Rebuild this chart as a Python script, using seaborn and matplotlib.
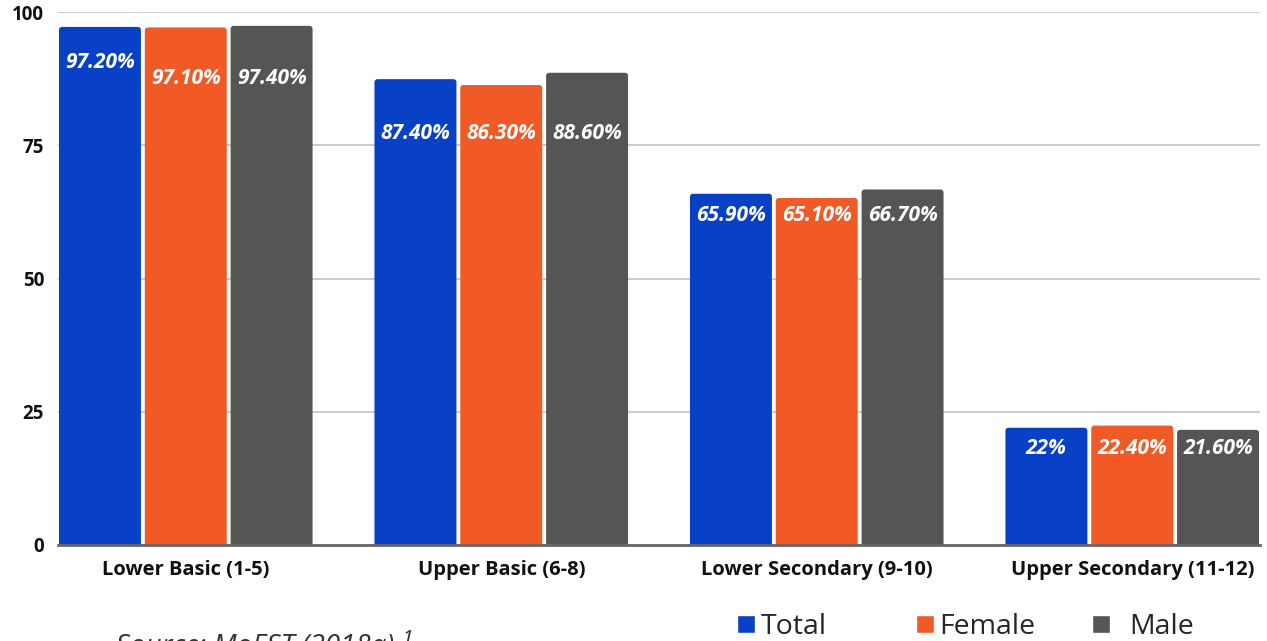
import matplotlib
matplotlib.use("Agg")
import matplotlib.pyplot as plt
from matplotlib.patches import FancyBboxPatch
import pandas as pd
import seaborn as sns

# Completion rates by education level and sex (%)
levels = ["Lower Basic (1-5)", "Upper Basic (6-8)", "Lower Secondary (9-10)", "Upper Secondary (11-12)"]
groups = ["Total", "Female", "Male"]
total = [97.2, 87.4, 65.9, 22.0]
female = [97.1, 86.3, 65.1, 22.4]
male = [97.4, 88.6, 66.7, 21.6]
colors = ["#0841C6", "#F15A27", "#555555"]
yticks = [0, 25, 50, 75, 100]

rows = []
for g, vals in zip(groups, [total, female, male]):
    for lvl, v in zip(levels, vals):
        rows.append({"level": lvl, "group": g, "value": v})
df = pd.DataFrame(rows)

sns.set_theme(style="white")
plt.rcParams["font.family"] = ["Open Sans", "DejaVu Sans"]

fig = plt.figure(figsize=(12.67, 6.41), dpi=100)
ax = fig.add_axes([58 / 1267, 1 - 545 / 641, (1260 - 58) / 1267, (545 - 12) / 641])

sns.barplot(data=df, x="level", y="value", hue="group", palette=colors,
            hue_order=groups, order=levels, width=0.816, gap=0.045,
            saturation=1, ax=ax, legend=True)

ax.set_xlim(-0.405, 3.405)
ax.set_ylim(0, 100)

# Replace the plain rectangles with slightly rounded ones
r_x = 0.0095
r_y = 0.56
for patch in list(ax.patches):
    x, y = patch.get_x(), patch.get_y()
    w, h = patch.get_width(), patch.get_height()
    if h <= 0 or w <= 0:
        continue
    fancy = FancyBboxPatch((x, y - 2 * r_y), w, h + 2 * r_y,
                           boxstyle=f"round,pad=0,rounding_size={r_x}",
                           mutation_aspect=r_y / r_x,
                           facecolor=patch.get_facecolor(), edgecolor="none", zorder=2)
    ax.add_patch(fancy)
    patch.set_visible(False)


def fmt(v):
    return f"{int(v)}%" if float(v).is_integer() else f"{v:.2f}%"


# Value labels inside the bars: drop below the shortest bar of each level
label_drop = [9.5, 9.1, 3.2, 3.5]
slot = 0.816 / 3
for i, lvl in enumerate(levels):
    vals = [total[i], female[i], male[i]]
    for j, v in enumerate(vals):
        lab_y = min(vals) - label_drop[i]
        if i == 0 and j == 0:
            lab_y = v - 6.7
        xc = i + (j - 1) * slot
        ax.text(xc, lab_y, fmt(v), ha="center", va="center", color="white",
                fontsize=15, fontweight="bold", fontstyle="italic", zorder=3)

ax.set_yticks(yticks)
ax.set_yticklabels([str(t) for t in yticks], fontsize=13.5, fontweight="bold", color="#111111")
for lab in ax.get_xticklabels():
    lab.set_fontsize(14.5)
    lab.set_fontweight("bold")
    lab.set_color("#111111")
ax.tick_params(axis="both", length=0)
ax.tick_params(axis="y", pad=10)
ax.tick_params(axis="x", pad=11)
ax.set_xlabel("")
ax.set_ylabel("")

ax.grid(axis="y", color="#C8C8C8", linewidth=1.3, zorder=0)
ax.set_axisbelow(True)
for s in ["left", "right", "top"]:
    ax.spines[s].set_visible(False)
ax.spines["bottom"].set_color("#666666")
ax.spines["bottom"].set_linewidth(2)
ax.spines["bottom"].set_zorder(4)

# Legend: one entry per block, laid out along the bottom right
seaborn_leg = ax.get_legend()
handles = list(seaborn_leg.legend_handles)
labels = [t.get_text() for t in seaborn_leg.get_texts()]
seaborn_leg.remove()
anchors = [737, 916, 1092]
pads = [0.2, 0.2, 0.7]
for h, lab, xa, pad in zip(handles, labels, anchors, pads):
    fig.legend([h], [lab], loc="center left",
               bbox_to_anchor=(xa / 1267, 1 - 627 / 641),
               frameon=False, fontsize=20.5, handlelength=0.62, handleheight=0.62,
               handletextpad=pad, borderpad=0, borderaxespad=0)

fig.text(116 / 1267, 1 - 633 / 641, "Source: MoEST (2018a) \u00b9", fontsize=20,
         fontstyle="italic", color="#333333", ha="left", va="top")

fig.savefig("out.png", dpi=100)
